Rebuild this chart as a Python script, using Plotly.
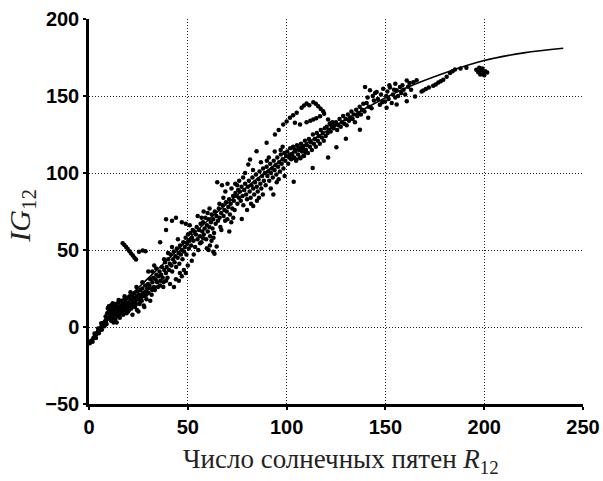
import plotly.graph_objects as go

# Smoothed monthly readings: (R12, IG12)
tail = [(0.4, -10.5), (0.8, -9.8), (1.1, -9.1), (1.5, -8.7), (1.8, -9.6), (2.2, -7.2), (2.6, -6.8),
        (2.8, -4.2), (3.0, -5.9), (3.3, -5.3), (3.5, -7.2), (3.7, -4.6), (4.1, -3.9), (4.4, -3.3),
        (4.6, -1.0), (4.8, -2.8), (5.0, -4.0), (5.2, -2.0), (5.6, -1.1), (6.0, -0.6), (6.2, 2.5),
        (6.3, 0.3), (6.5, -1.8), (6.7, 1.0), (7.1, 1.6), (7.4, 2.4), (7.8, 3.1), (7.8, 0.5),
        (8.2, 3.8), (8.4, 6.8), (8.6, 4.5), (8.9, 2.0)]

band_low = [(9.2, 9), (9.5, 12), (9.8, 6), (10.1, 10), (10.4, 13), (10.6, 7), (10.9, 11), (11.2, 4),
            (11.4, 9), (11.7, 12), (12.0, 6), (12.2, 14), (12.5, 10), (12.8, 8), (13.0, 12), (13.3, 5),
            (13.5, 15), (13.8, 9), (14.1, 11), (14.3, 7), (14.6, 13), (14.9, 16), (15.1, 10), (15.4, 12),
            (15.6, 6), (15.9, 14), (16.2, 9), (16.5, 17), (16.8, 12), (17.0, 15), (17.3, 8), (17.6, 13),
            (17.9, 18), (18.2, 11), (18.5, 16), (18.7, 14), (19.0, 9), (19.3, 19), (19.6, 13), (19.9, 16),
            (20.2, 11), (20.5, 20), (20.8, 15), (21.1, 18), (21.4, 12), (21.8, 21), (22.1, 16), (22.4, 14),
            (22.7, 19), (23.0, 22), (23.3, 13), (23.6, 17), (24.0, 20), (24.3, 11), (24.6, 23), (24.9, 18),
            (25.3, 21), (25.6, 15), (26.0, 24), (26.3, 19), (26.7, 17), (27.0, 25), (27.3, 22), (27.7, 14),
            (28.0, 20), (28.4, 27), (28.7, 23), (29.1, 18), (29.5, 25), (29.9, 28), (30.2, 22), (30.6, 27),
            (31.0, 31), (31.3, 25), (31.7, 21), (32.1, 29), (32.5, 32), (32.9, 26), (33.3, 24), (33.7, 31),
            (34.1, 34), (34.5, 29), (34.9, 26), (35.3, 33), (11.0, 14), (13.9, 14), (16.0, 11), (18.0, 15),
            (21.0, 14), (23.8, 15), (26.5, 21), (29.0, 21), (12.4, 3), (15.2, 8), (19.8, 10),
            (10.0, 13.5), (12.0, 15.5), (15.0, 17.5), (18.0, 20), (21.0, 22.5), (24.0, 26), (27.0, 29),
            (14.0, 3), (22.0, 8), (25.0, 10), (28.0, 13), (31.0, 17), (11.5, 7.5), (14.5, 9.5),
            (17.5, 10.5), (20.0, 13.5), (23.0, 18.5), (26.0, 16.5), (29.5, 22.5), (32.0, 24)]

band_mid = [(35.7, 36), (36.1, 30), (36.5, 34), (36.9, 39), (37.3, 32), (37.7, 29), (38.1, 37), (38.5, 42),
            (38.9, 35), (39.3, 39), (39.7, 32), (40.1, 44), (40.5, 37), (40.9, 41), (41.3, 47), (41.7, 40),
            (42.1, 36), (42.5, 44), (42.9, 49), (43.3, 42), (43.7, 46), (44.1, 39), (44.5, 51), (44.9, 45),
            (45.3, 48), (45.7, 41), (46.1, 53), (46.5, 47), (46.9, 50), (47.3, 44), (47.7, 55), (48.1, 49),
            (48.5, 52), (48.9, 58), (49.3, 47), (49.7, 54), (50.1, 60), (50.5, 51), (50.9, 56), (51.3, 61),
            (51.7, 53), (52.1, 58), (52.5, 63),
            (41.0, 28), (44.0, 31), (46.0, 35), (48.0, 37), (50.0, 40), (52.0, 43), (47.0, 33), (43.0, 26),
            (37.6, 26), (45.5, 30), (49.0, 35),
            (39.0, 70), (42.0, 69), (44.0, 71), (47.0, 68), (49.0, 67), (36.0, 55), (39.0, 63), (33.0, 40),
            (30.0, 36), (42.0, 52), (45.0, 57), (40.0, 48), (38.0, 44), (34.0, 38), (32.0, 36), (36.0, 27),
            (39.0, 30)]

band_upper_mid = [(52.9, 56), (53.3, 62), (53.7, 52), (54.1, 60), (54.5, 65), (54.9, 57), (55.3, 50),
                  (55.7, 63), (56.1, 59), (56.5, 67), (56.9, 55), (57.3, 62), (57.7, 68), (58.1, 60),
                  (58.5, 64), (58.9, 71), (59.3, 57), (59.7, 66), (60.1, 62), (60.5, 70), (60.9, 65),
                  (61.3, 59), (61.7, 68), (62.1, 73), (62.5, 64), (62.9, 70), (63.3, 61), (63.7, 75),
                  (64.1, 67), (64.5, 72), (64.9, 94), (65.3, 69), (65.7, 77), (66.1, 71), (66.5, 65),
                  (66.9, 74), (67.3, 92), (67.7, 79), (68.1, 72), (68.5, 76), (68.9, 69), (69.3, 81),
                  (69.7, 75), (70.1, 93), (70.5, 78), (70.9, 83), (71.3, 73), (71.7, 80), (72.1, 90),
                  (72.5, 77), (72.9, 85), (73.3, 82), (73.7, 76), (74.1, 87), (74.7, 85), (75.1, 80),
                  (75.5, 89), (75.9, 84),
                  (56.2, 54.4), (59.6, 51.1), (62.9, 48.9), (64.6, 52.2), (57.8, 57.6), (60.5, 50),
                  (63.5, 47.5), (61.2, 53), (55.0, 72), (58.0, 75), (61.0, 77), (63.0, 58), (66.0, 80),
                  (68.0, 84), (70.0, 70), (72.0, 68), (74.0, 93), (53.0, 47), (51.0, 66), (57.0, 71),
                  (60.0, 74), (62.0, 56), (67.0, 63), (69.0, 88), (73.0, 71), (75.0, 92)]

band_high_mid = [(76.3, 88), (76.8, 82), (77.2, 91), (77.7, 85), (78.1, 79), (78.6, 89), (79.0, 93),
                 (79.5, 86), (80.0, 83), (80.4, 91), (80.9, 95), (81.3, 88), (81.8, 84), (82.2, 92),
                 (82.7, 97), (83.1, 90), (83.6, 86), (84.0, 94), (84.5, 99), (84.9, 91), (85.4, 88),
                 (85.8, 96), (86.3, 101), (86.7, 93), (87.2, 90), (87.6, 98), (88.1, 103), (88.5, 95),
                 (89.0, 100), (89.4, 92), (89.9, 104), (90.3, 98), (90.8, 101), (91.2, 95), (91.7, 106),
                 (92.1, 100), (92.6, 103), (93.0, 97), (93.5, 108), (93.9, 102), (94.4, 105), (94.8, 99),
                 (95.3, 110), (95.7, 104), (96.2, 107), (96.6, 101), (97.1, 112), (97.5, 106), (98.0, 109),
                 (98.4, 103), (98.9, 113), (99.3, 108), (99.8, 111),
                 (76.0, 95), (78.0, 97), (80.0, 76), (82.0, 80), (85.0, 82), (87.0, 107), (88.0, 86),
                 (91.0, 110), (92.0, 90), (95.0, 94), (97.0, 115), (99.0, 98), (79.0, 100), (83.0, 102),
                 (86.0, 84), (90.0, 108), (94.0, 114), (96.0, 96), (98.0, 117)]

band_top = [(100.3, 114), (100.8, 106), (101.3, 110), (101.8, 116), (102.3, 109), (102.8, 112), (103.3, 117),
            (103.8, 110), (104.3, 114), (104.8, 108), (105.3, 118), (105.8, 112), (106.3, 115), (106.8, 110),
            (107.3, 119), (107.8, 114), (108.3, 117), (108.8, 111), (109.3, 121), (109.8, 115), (110.3, 118),
            (110.8, 113), (111.3, 122), (111.8, 117), (112.3, 120), (112.8, 115), (113.3, 125), (113.8, 119),
            (114.3, 122), (114.8, 117), (115.3, 126), (115.8, 121), (116.3, 124), (116.8, 119), (117.3, 128),
            (117.8, 123), (118.3, 126), (118.8, 121), (119.3, 129), (119.8, 124), (120.3, 130), (120.8, 126),
            (121.3, 128), (121.8, 132), (122.3, 127), (122.8, 130), (123.3, 133), (123.8, 129), (124.3, 131),
            (101.7, 112), (103.0, 109.5), (105.0, 108.8), (107.0, 109.5), (108.5, 111), (109.5, 113.5),
            (108.0, 116), (106.0, 116.5), (104.0, 115.5)]

upper_branch = [(80.6, 105.5), (81.5, 108.8), (84.8, 114.2), (89.9, 119.6), (94.1, 125), (98.3, 131.5),
                (101.7, 135.8), (105.1, 139.1), (107.6, 142.3), (110.1, 145.1), (113.5, 146), (116.0, 143.4),
                (118.5, 140.1), (116.9, 136.9), (113.5, 134.7), (110.1, 133), (106.8, 131.5), (104.2, 132.6),
                (121.0, 134.7), (122.8, 132.6), (115.0, 135.6), (111.5, 144), (114.8, 145), (117.2, 141.8),
                (108.8, 143.8), (103.3, 137.5), (112.0, 134), (119.0, 138.5), (100.0, 133.5), (96.0, 128)]

lower_branch = [(71.0, 62), (77.3, 70.2), (83.1, 78.5), (93.3, 86), (103.6, 94.3), (113.2, 103.3),
                (121.0, 110), (125.2, 116.8), (130.0, 122.2), (137.1, 128.1), (141.3, 135.8),
                (150.6, 142.3), (155.7, 144.5)]

band_peak = [(125.0, 133), (125.6, 128), (126.2, 131), (126.8, 135), (127.4, 130), (128.0, 133), (128.6, 137),
             (129.2, 132), (129.8, 135), (130.4, 131), (131.0, 138), (131.6, 134), (132.2, 136), (132.8, 140),
             (133.4, 135), (134.0, 138), (134.6, 133), (135.2, 141), (135.8, 137), (136.4, 139), (137.0, 143),
             (137.6, 138), (138.2, 141), (138.8, 145), (139.4, 140), (139.7, 155.8), (140.5, 145.4),
             (141.0, 149), (141.6, 143), (142.2, 153.7), (143.0, 142.1), (143.6, 150), (144.2, 147),
             (144.8, 152), (145.6, 152.6), (146.2, 148), (147.2, 144.3), (147.8, 151), (148.4, 146),
             (148.9, 154.7), (149.8, 146.4), (150.4, 150), (151.0, 153), (151.6, 148), (152.3, 155.6),
             (153.2, 145.4), (153.8, 151), (154.4, 154), (155.0, 149), (155.7, 153.7), (156.4, 150),
             (157.4, 155.8), (158.0, 152), (158.6, 157), (159.2, 154), (160.0, 151), (160.8, 160),
             (161.5, 156), (162.2, 158.5), (163.0, 154), (164.1, 159), (165.0, 149.7), (165.8, 160.2),
             (152.0, 157), (155.0, 158)]

band_max = [(160.8, 146.6), (168.3, 153), (169.2, 153.5), (170.5, 154.5), (172.0, 155.5), (174.2, 156.6),
            (175.5, 157.5), (176.8, 158.8), (178.0, 159.5), (179.3, 160.5), (181.0, 162.5), (182.7, 165),
            (184.0, 166), (185.2, 167.2), (188.0, 167.8), (191.0, 168.3), (196.0, 167), (197.0, 165.5),
            (198.5, 166.5), (199.5, 164.5), (200.5, 166), (201.5, 165.3), (199.0, 167.8), (197.5, 168.4),
            (200.0, 163.5), (198.0, 164)]

streak = [(17.05, 54.4), (17.9, 53.2), (18.8, 51.9), (19.6, 50.6), (20.5, 49.2), (21.3, 47.8),
          (22.2, 46.4), (23.0, 45.0), (23.8, 43.9), (25.3, 48.9), (27.2, 49.6), (28.6, 49.2)]

# Regression curve, read at fixed R12 steps
fit_r12 = [0, 20, 40, 60, 80, 100, 120, 140, 160, 180, 200, 220, 240]
fit_ig12 = [-10, 19, 44, 69, 91, 111, 127, 142, 155, 165, 173, 178, 181]

groups = [tail, band_low, band_mid, band_upper_mid, band_high_mid, band_top,
          upper_branch, lower_branch, band_peak, band_max, streak]
pts = [p for g in groups for p in g]
r12 = [p[0] for p in pts]
ig12 = [p[1] for p in pts]

fig = go.Figure()
fig.add_trace(go.Scatter(x=r12, y=ig12, mode="markers",
                         marker=dict(color="black", size=4.5, line=dict(width=0)),
                         showlegend=False))
fig.add_trace(go.Scatter(x=fit_r12, y=fit_ig12, mode="lines", line_shape="spline",
                         line=dict(color="black", width=1.6), showlegend=False))

tick_font = dict(family="Liberation Sans", size=20, color="black", weight="bold")
grid = dict(showgrid=True, gridcolor="#222222", griddash="1px,2px", gridwidth=1.2,
            zeroline=False, ticks="outside", ticklen=3, tickwidth=2, tickcolor="black",
            showline=True, linecolor="black", linewidth=2.5, tickfont=tick_font,
            automargin=False)

fig.update_xaxes(range=[0, 250], tickvals=[0, 50, 100, 150, 200, 250], **grid)
fig.update_yaxes(range=[-50, 200], tickvals=[-50, 0, 50, 100, 150, 200], **grid)

fig.update_layout(
    width=603, height=481,
    margin=dict(l=89, r=20, t=19, b=77),
    plot_bgcolor="white", paper_bgcolor="white",
    annotations=[
        dict(text="Число солнечных пятен <i>R</i><sub>12</sub>", xref="paper", yref="paper",
             x=0.51, y=-0.148, xanchor="center", yanchor="middle", showarrow=False,
             font=dict(family="Liberation Serif", size=27, color="#222222")),
        dict(text="<i>IG</i><sub>12</sub>", xref="paper", yref="paper",
             x=-0.135, y=0.49, xanchor="center", yanchor="middle", textangle=-90, showarrow=False,
             font=dict(family="Liberation Serif", size=30, color="#222222")),
    ],
)

fig.write_html("out.html")
